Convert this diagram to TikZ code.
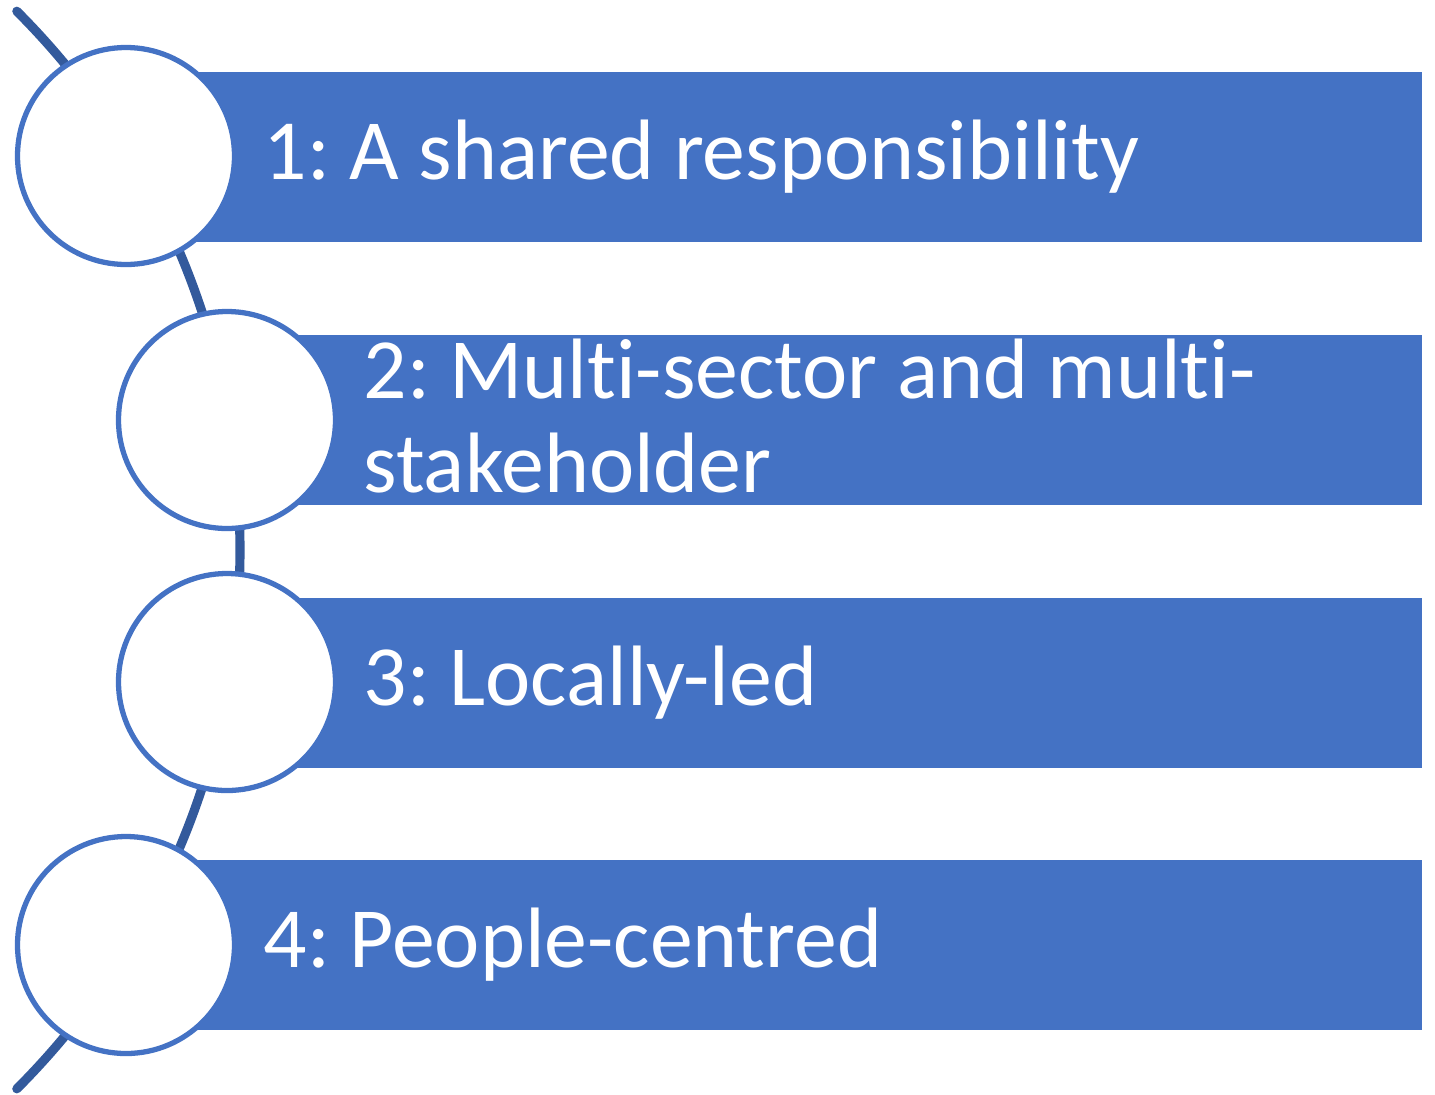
\documentclass[tikz,border=0pt]{standalone}
\usepackage{fontspec}
\setmainfont[Ligatures=NoCommon]{Carlito}
\frenchspacing
\definecolor{barblue}{HTML}{4472C4}
\definecolor{arcblue}{HTML}{335A9C}
\tikzset{
    bar/.style={rectangle, fill=barblue, draw=none, minimum height=1.70cm, inner sep=0pt, anchor=west},
    ring/.style={circle, draw=barblue, line width=1.5pt, fill=white, minimum size=2.17cm, inner sep=0pt},
    bartext/.style={anchor=west, text=white, inner sep=0pt, align=left, font=\fontsize{24.4}{26.6}\selectfont}
}
\begin{document}
\begin{tikzpicture}
                \useasboundingbox (0, 0) rectangle (14.35, -10.94);
                % the curve behind the circles
                \coordinate (arctop) at (0.168, -0.112);
                \draw[arcblue, line width=2.6pt, line cap=round] (arctop) arc[start angle=45, end angle=-45, radius=7.62];
                % bars
                \node[bar, minimum width=12.96cm] (b1) at (1.25, -1.57) {};
                \node[bar, minimum width=11.95cm] (b2) at (2.26, -4.20) {};
                \node[bar, minimum width=11.95cm] (b3) at (2.26, -6.825) {};
                \node[bar, minimum width=12.96cm] (b4) at (1.25, -9.445) {};
                % circles
                \node[ring] (c1) at (1.26, -1.56) {};
                \node[ring] (c2) at (2.27, -4.20) {};
                \node[ring] (c3) at (2.27, -6.82) {};
                \node[ring] (c4) at (1.26, -9.45) {};
                % texts
                \node[bartext] (t1) at (2.63, -1.57) {1: A shared responsibility};
                \node[bartext] (t2) at (3.63, -4.16) {2: Multi-sector and multi-\\stakeholder};
                \node[bartext] (t3) at (3.63, -6.825) {3: Locally-led};
                \node[bartext] (t4) at (2.63, -9.445) {4: People-centred};
            \end{tikzpicture}
\end{document}
